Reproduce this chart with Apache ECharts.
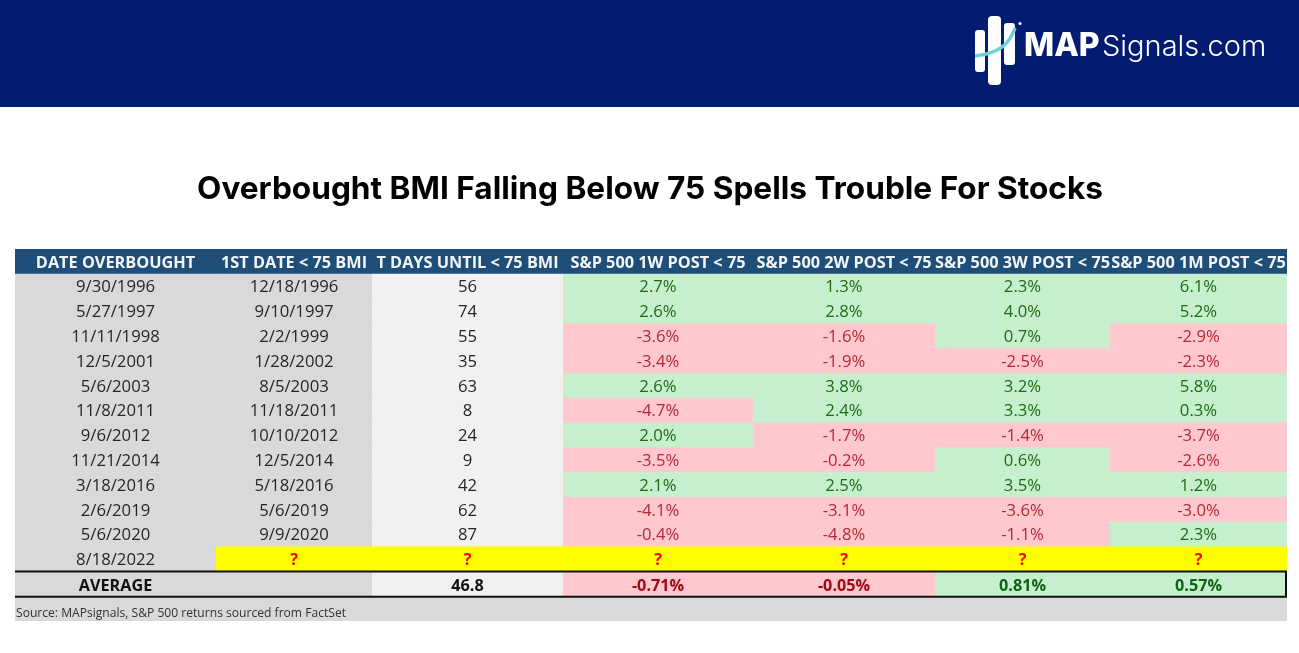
<!doctype html>
<html>
    <head>
        <meta charset="utf-8">
        <title>Overbought BMI Falling Below 75</title>
        <style>
            html, body { margin: 0; padding: 0; background: #fff; }
            #main { width: 1299px; height: 653px; }
        </style>
    </head>
    <body>
        <div id="main"></div>
        <script src="https://cdn.jsdelivr.net/npm/echarts@6/dist/echarts.min.js"></script>
        <script>

            var titleText = 'Overbought BMI Falling Below 75 Spells Trouble For Stocks';
            var sourceText = 'Source: MAPsignals, S&P 500 returns sourced from FactSet';

            var headers = ['DATE OVERBOUGHT', '1ST DATE < 75 BMI', 'T DAYS UNTIL < 75 BMI', 'S&P 500 1W POST < 75',
                'S&P 500 2W POST < 75', 'S&P 500 3W POST < 75', 'S&P 500 1M POST < 75'];

            var overboughtDates = ['9/30/1996', '5/27/1997', '11/11/1998', '12/5/2001', '5/6/2003', '11/8/2011',
                '9/6/2012', '11/21/2014', '3/18/2016', '2/6/2019', '5/6/2020'];
            var firstDates = ['12/18/1996', '9/10/1997', '2/2/1999', '1/28/2002', '8/5/2003', '11/18/2011',
                '10/10/2012', '12/5/2014', '5/18/2016', '5/6/2019', '9/9/2020'];
            var tDays = [56, 74, 55, 35, 63, 8, 24, 9, 42, 62, 87];

            var ret1w = [2.7, 2.6, -3.6, -3.4, 2.6, -4.7, 2.0, -3.5, 2.1, -4.1, -0.4];
            var ret2w = [1.3, 2.8, -1.6, -1.9, 3.8, 2.4, -1.7, -0.2, 2.5, -3.1, -4.8];
            var ret3w = [2.3, 4.0, 0.7, -2.5, 3.2, 3.3, -1.4, 0.6, 3.5, -3.6, -1.1];
            var ret1m = [6.1, 5.2, -2.9, -2.3, 5.8, 0.3, -3.7, -2.6, 1.2, -3.0, 2.3];

            var pendingDate = '8/18/2022';
            var avgDays = 46.8;
            var avgReturns = [-0.71, -0.05, 0.81, 0.57];

            // column edges, in px from the table's left side
            var colEdges = [0, 201, 357, 548, 738, 920, 1095, 1272];

            var returns = [ret1w, ret2w, ret3w, ret1m];
            var rowCount = overboughtDates.length + 4;
            var pendingRow = overboughtDates.length + 1;
            var avgRow = pendingRow + 1;
            var sourceRow = avgRow + 1;

            var rows = [];
            for (var r = 0; r < rowCount; r++) rows.push('r' + r);

            // [column, row, text, kind]
            var cells = [];
            headers.forEach(function (h, c) { cells.push([c, 0, h, 'header']); });
            overboughtDates.forEach(function (d, i) {
                cells.push([0, i + 1, d, 'grey']);
                cells.push([1, i + 1, firstDates[i], 'grey']);
                cells.push([2, i + 1, String(tDays[i]), 'light']);
                returns.forEach(function (s, k) {
                    cells.push([3 + k, i + 1, s[i].toFixed(1) + '%', s[i] < 0 ? 'red' : 'green']);
                });
            });
            cells.push([0, pendingRow, pendingDate, 'grey']);
            for (var c = 1; c < 7; c++) cells.push([c, pendingRow, '?', 'yellow']);
            cells.push([0, avgRow, 'AVERAGE', 'greyBold']);
            cells.push([1, avgRow, '', 'grey']);
            cells.push([2, avgRow, avgDays.toFixed(1), 'lightBold']);
            avgReturns.forEach(function (v, k) {
                cells.push([3 + k, avgRow, v.toFixed(2) + '%', v < 0 ? 'redBold' : 'greenBold']);
            });

            var kinds = {
                header: { fill: '#1f4e79', color: '#f2f6fa', weight: 700, size: 16.3 },
                grey: { fill: '#d9d9d9', color: '#262626', weight: 400, size: 16.7 },
                greyBold: { fill: '#d9d9d9', color: '#111', weight: 700, size: 16.2 },
                light: { fill: '#f1f1f1', color: '#262626', weight: 400, size: 16.7 },
                lightBold: { fill: '#f1f1f1', color: '#111', weight: 700, size: 16.2 },
                green: { fill: '#c6efce', color: '#1e6b16', weight: 400, size: 16.7 },
                greenBold: { fill: '#c6efce', color: '#0f6314', weight: 700, size: 16.2 },
                red: { fill: '#ffc7ce', color: '#b02a35', weight: 400, size: 16.7 },
                redBold: { fill: '#ffc7ce', color: '#a00a14', weight: 700, size: 16.2 },
                yellow: { fill: '#ffff00', color: '#ff0000', weight: 700, size: 16.2 }
            };

            function renderCell(params, api) {
                var col = api.value(0);
                var row = api.value(1);
                var k = kinds[cells[params.dataIndex][3]];
                var h = api.size([0, 1])[1];
                var left = api.coord([colEdges[col], row])[0];
                var right = api.coord([colEdges[col + 1], row])[0];
                var y = api.coord([colEdges[col], row])[1];
                return {
                    type: 'group',
                    children: [{
                        type: 'rect',
                        shape: { x: left, y: y - h / 2, width: right - left + 0.5, height: h + 0.5 },
                        style: { fill: k.fill }
                    }, {
                        type: 'text',
                        style: {
                            text: cells[params.dataIndex][2],
                            x: (left + right) / 2,
                            y: y + (row === avgRow ? 2.5 : 1.5),
                            align: 'center',
                            verticalAlign: 'middle',
                            fontFamily: '"Open Sans"',
                            fontSize: k.size,
                            fontWeight: k.weight,
                            fill: k.color
                        }
                    }]
                };
            }

            function renderSource(params, api) {
                var h = api.size([0, 1])[1];
                var p0 = api.coord([0, sourceRow]);
                var p1 = api.coord([colEdges[7], sourceRow]);
                return {
                    type: 'group',
                    children: [{
                        type: 'rect',
                        shape: { x: p0[0], y: p0[1] - h / 2, width: p1[0] - p0[0], height: h },
                        style: { fill: '#d9d9d9' }
                    }, {
                        type: 'text',
                        style: {
                            text: sourceText,
                            x: p0[0] + 1,
                            y: p0[1] + 5,
                            align: 'left',
                            verticalAlign: 'middle',
                            fontFamily: '"Open Sans"',
                            fontSize: 12.1,
                            fill: '#333'
                        }
                    }]
                };
            }

            function renderAvgBox(params, api) {
                var h = api.size([0, 1])[1];
                var p0 = api.coord([0, avgRow]);
                var p1 = api.coord([colEdges[7], avgRow]);
                return {
                    type: 'group',
                    children: [{
                        type: 'polyline',
                        shape: { points: [[p0[0], p0[1] - h / 2], [p1[0] - 1, p0[1] - h / 2],
                            [p1[0] - 1, p0[1] + h / 2 + 0.5], [p0[0], p0[1] + h / 2 + 0.5]] },
                        style: { stroke: '#111', lineWidth: 2, fill: null }
                    }]
                };
            }

            var myChart = echarts.init(document.getElementById('main'), null, { renderer: 'canvas' });

            myChart.setOption({
                animation: false,
                backgroundColor: '#fff',
                title: {
                    text: titleText,
                    left: 645,
                    top: 168,
                    textAlign: 'center',
                    textStyle: { fontFamily: 'Inter', fontSize: 31.6, fontWeight: 700, color: '#000' }
                },
                tooltip: { show: false },
                grid: { left: 15, top: 249, width: 1272, height: 372 },
                xAxis: { type: 'value', min: 0, max: colEdges[7], show: false },
                yAxis: { type: 'category', data: rows, inverse: true, show: false },
                series: [{
                    type: 'custom',
                    coordinateSystem: 'cartesian2d',
                    clip: true,
                    silent: true,
                    encode: { x: 0, y: 1 },
                    renderItem: renderCell,
                    data: cells.map(function (d) { return [d[0], d[1]]; })
                }, {
                    type: 'custom',
                    coordinateSystem: 'cartesian2d',
                    silent: true,
                    encode: { x: 0, y: 1 },
                    renderItem: renderSource,
                    data: [[0, sourceRow]]
                }, {
                    type: 'custom',
                    coordinateSystem: 'cartesian2d',
                    silent: true,
                    z: 5,
                    encode: { x: 0, y: 1 },
                    renderItem: renderAvgBox,
                    data: [[0, avgRow]]
                }],
                graphic: [
                    { type: 'rect', z: 1, shape: { x: 0, y: 0, width: 1299, height: 107 }, style: { fill: '#011c70' } },
                    { type: 'rect', z: 2, shape: { x: 975, y: 30, width: 10, height: 42, r: 3 }, style: { fill: '#fff' } },
                    { type: 'rect', z: 2, shape: { x: 988, y: 16, width: 13, height: 69, r: 4 }, style: { fill: '#fff' } },
                    { type: 'rect', z: 2, shape: { x: 1004, y: 23, width: 11, height: 42, r: 3 }, style: { fill: '#fff' } },
                    { type: 'circle', z: 2, shape: { cx: 1020, cy: 23.5, r: 1.5 }, style: { fill: '#fff' } },
                    { type: 'bezierCurve', z: 3, shape: { x1: 975, y1: 56, x2: 1015, y2: 28, cpx1: 1002, cpy1: 53, cpx2: 1010, cpy2: 42 },
                        style: { stroke: '#6fd0dc', lineWidth: 3.5, fill: null } },
                    { type: 'text', z: 2, style: { text: 'MAP', x: 1024, y: 62, verticalAlign: 'bottom', fontFamily: 'Inter', fontSize: 32, fontWeight: 800, fill: '#fff' } },
                    { type: 'text', z: 2, style: { text: 'Signals.com', x: 1102, y: 62, verticalAlign: 'bottom', fontFamily: 'Inter', fontSize: 29, fontWeight: 300, fill: '#fff' } }
                ]
            });

        </script>
    </body>
</html>
